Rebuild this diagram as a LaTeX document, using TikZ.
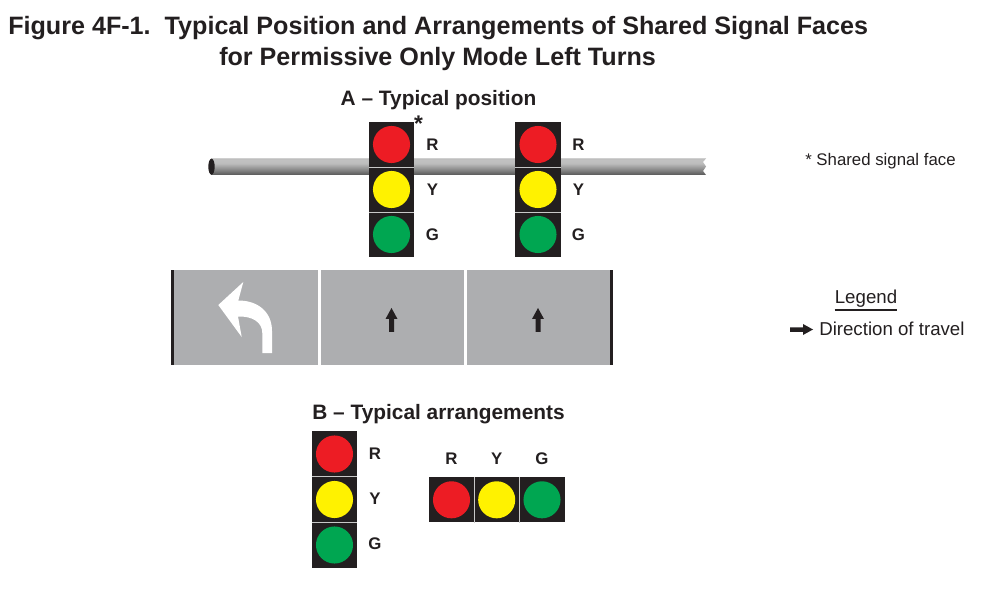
\documentclass[tikz,border=0pt]{standalone}
\usepackage{fontspec}
\setmainfont{Liberation Sans}
\definecolor{sigblack}{HTML}{231F20}
\definecolor{sigred}{HTML}{ED1C24}
\definecolor{sigyellow}{HTML}{FFF200}
\definecolor{siggreen}{HTML}{00A651}
\definecolor{roadgray}{HTML}{ADAEB0}
\definecolor{sigsep}{HTML}{C8C8C8}
\newcommand{\sigcell}[4]{%
  \node[cellbox] (#1box) at (#2,#3) {};
  \node[lamp,fill=#4] (#1) at (#2,#3) {};
}
\pgfdeclareverticalshading{polegrad}{100bp}{
  color(0bp)=(black!85);
  color(20bp)=(black!72);
  color(40bp)=(black!48);
  color(60bp)=(black!26);
  color(72bp)=(black!24);
  color(88bp)=(black!40);
  color(100bp)=(black!55)}
\tikzset{
  cellbox/.style={fill=sigblack,inner sep=0pt,minimum size=33.8pt},
  seprule/.style={draw=sigsep,line width=0.6pt},
  lamp/.style={circle,inner sep=0pt,minimum size=27.8pt},
  title/.style={font=\fontsize{18.85}{22}\selectfont\bfseries,anchor=base west,inner sep=0,text=sigblack},
  heading/.style={font=\fontsize{15.65}{18}\selectfont\bfseries,anchor=base,inner sep=0,text=sigblack},
  letter/.style={font=\fontsize{12.6}{14}\selectfont\bfseries,inner sep=0,text=sigblack},
  note/.style={font=\fontsize{12.6}{14}\selectfont,anchor=base west,inner sep=0,text=sigblack},
  notebig/.style={font=\fontsize{14}{16}\selectfont,anchor=base west,inner sep=0,text=sigblack}
}
\begin{document}
\begin{tikzpicture}[x=0.75pt,y=-0.75pt]
\useasboundingbox (0,0) rectangle (1002,591);
\node[title] (t1) at (8,34.5) {Figure 4F-1.\ \ Typical Position and Arrangements of Shared Signal Faces};
\node[title] (t2) at (219,65.5) {for Permissive Only Mode Left Turns};
\node[heading] (ha) at (438.5,106) {A – Typical position};
\node[heading] (hb) at (438.5,419) {B – Typical arrangements};
% pole
\path[shading=polegrad]
  (211,158.5) -- (706,158.5) -- (703,162) -- (706,166.5) -- (703,171) -- (706,175) -- (211,175) -- cycle;
\fill[sigblack] (211.5,166.7) ellipse[x radius=3.2,y radius=8];
% heads
\sigcell{a1}{391.5}{144.5}{sigred}
\sigcell{a2}{391.5}{189.5}{sigyellow}
\sigcell{a3}{391.5}{234.5}{siggreen}
\draw[seprule] (a1box.south west) -- (a1box.south east);
\draw[seprule] (a2box.south west) -- (a2box.south east);
\sigcell{b1}{538}{144.5}{sigred}
\sigcell{b2}{538}{189.5}{sigyellow}
\sigcell{b3}{538}{234.5}{siggreen}
\draw[seprule] (b1box.south west) -- (b1box.south east);
\draw[seprule] (b2box.south west) -- (b2box.south east);
\node[letter] at (432.5,144.5) {R};
\node[letter] at (432.5,189.5) {Y};
\node[letter] at (432.5,235) {G};
\node[letter] at (578.5,144.5) {R};
\node[letter] at (578.5,189.5) {Y};
\node[letter] at (578.5,235) {G};
\node[font=\fontsize{17}{17}\selectfont\bfseries,inner sep=0,text=sigblack] (star) at (418.5,124) {*};
% road
\fill[roadgray] (171,270) rectangle (612,365);
\fill[white] (318,270) rectangle (320.6,365);
\fill[white] (464.2,270) rectangle (466.8,365);
\fill[sigblack] (170.5,270) rectangle (173.5,365);
\fill[sigblack] (609.5,270) rectangle (612.5,365);
\fill[white] (218.3,305) -- (243.3,282) -- (238.3,300.5)
  .. controls (258,300.5) and (272,312) .. (272,331) -- (272,353) -- (262.3,353) -- (262.3,333)
  .. controls (262.3,322) and (252,316) .. (238,316.5) -- (241.7,337) -- cycle;
\fill[sigblack] (391.5,308) -- (397.5,319) -- (394,319) -- (394,332) -- (389,332) -- (389,319) -- (385.5,319) -- cycle;
\fill[sigblack] (538,308) -- (544,319) -- (540.5,319) -- (540.5,332) -- (535.5,332) -- (535.5,319) -- (532,319) -- cycle;
% notes
\node[note] (n1) at (805,166) {* Shared signal face};
\node[notebig,anchor=base] (leg) at (866,304) {Legend};
\draw[sigblack,line width=0.9pt] (leg.south west |- 0,310) -- (leg.south east |- 0,310);
\fill[sigblack] (790,327.5) -- (803,327.5) -- (803,324) -- (813,329.5) -- (803,335) -- (803,332) -- (790,332) -- cycle;
\node[notebig] (n2) at (819,335) {Direction of travel};
% arrangements
\sigcell{c1}{334.5}{454}{sigred}
\sigcell{c2}{334.5}{499.5}{sigyellow}
\sigcell{c3}{334.5}{545}{siggreen}
\draw[seprule] (c1box.south west) -- (c1box.south east);
\draw[seprule] (c2box.south west) -- (c2box.south east);
\node[letter] at (375,453.5) {R};
\node[letter] at (375,499) {Y};
\node[letter] at (375,544) {G};
\sigcell{d1}{451.5}{499.8}{sigred}
\sigcell{d2}{496.7}{499.8}{sigyellow}
\sigcell{d3}{542}{499.8}{siggreen}
\draw[seprule] (d1box.north east) -- (d1box.south east);
\draw[seprule] (d2box.north east) -- (d2box.south east);
\node[letter] at (451.5,458.5) {R};
\node[letter] at (496.7,458.5) {Y};
\node[letter] at (542,458.5) {G};
\end{tikzpicture}
\end{document}
